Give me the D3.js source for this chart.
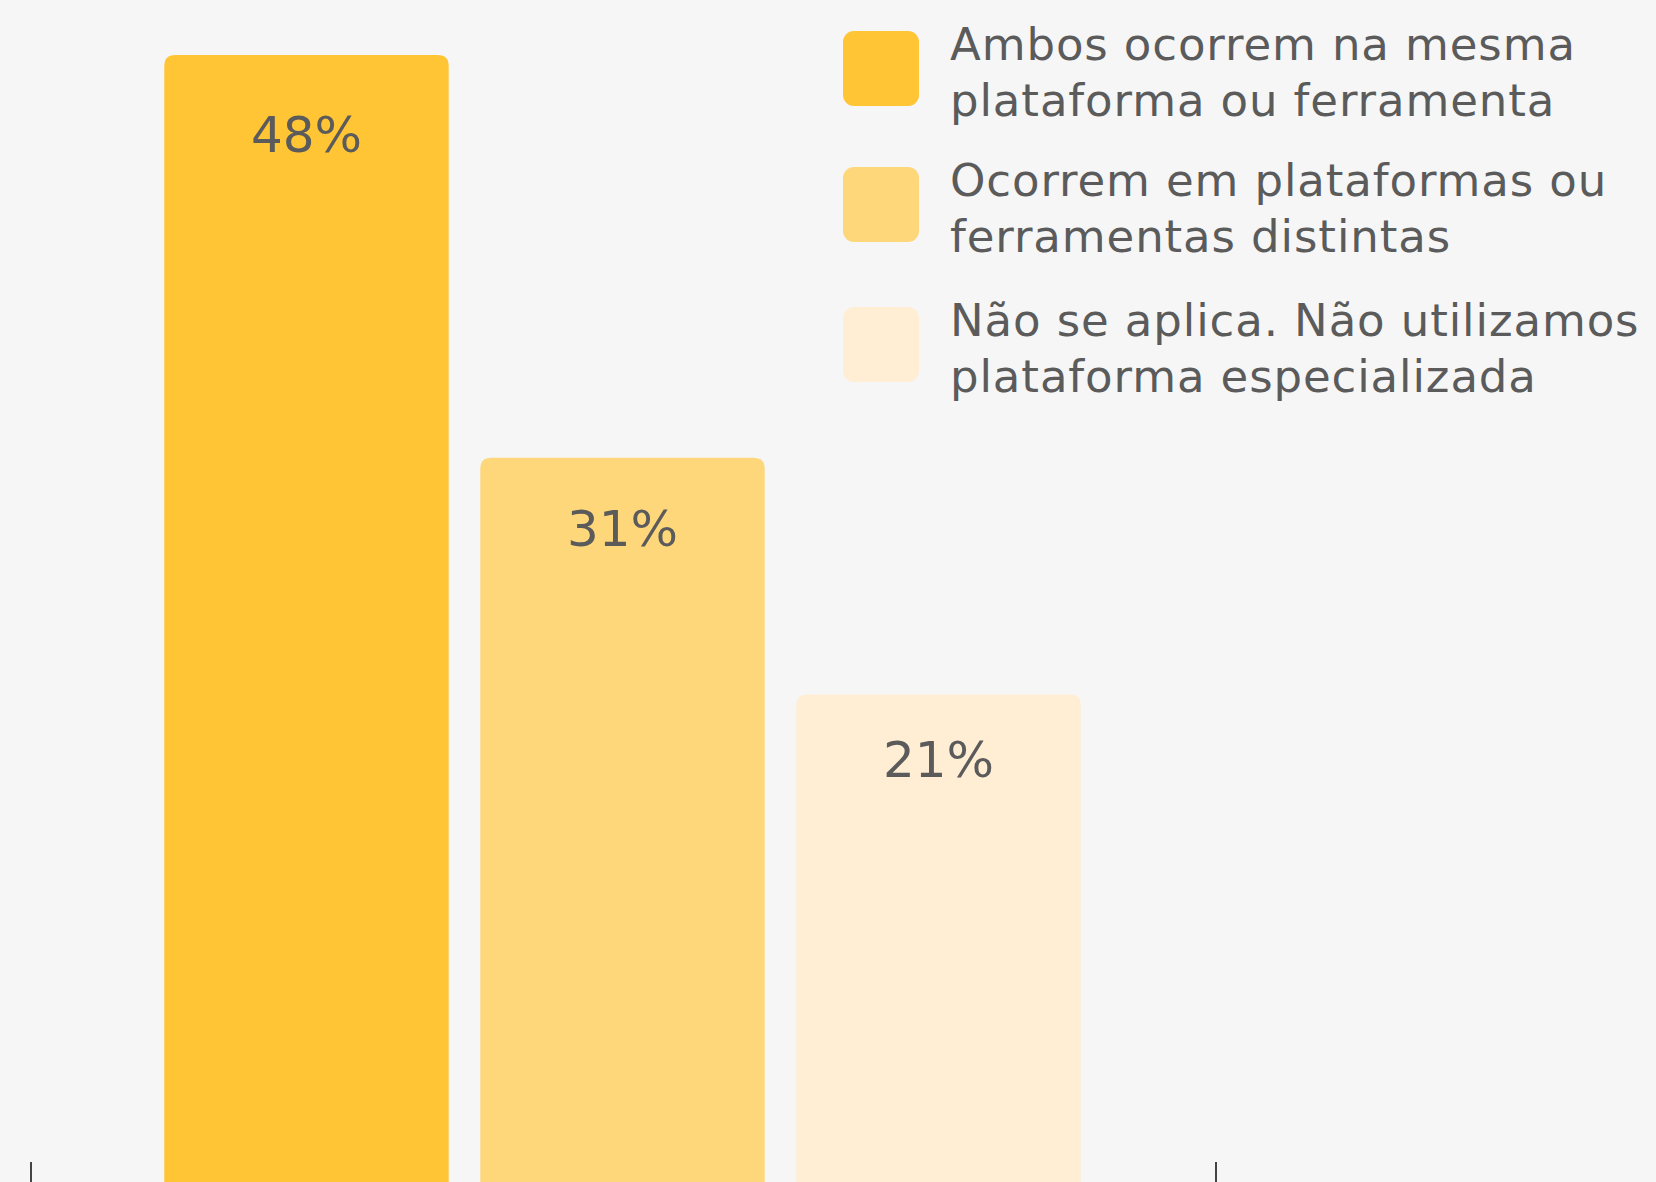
<!DOCTYPE html>
<html lang="pt">
<head>
<meta charset="UTF-8">
<title>Plataformas</title>
<script src="https://d3js.org/d3.v7.min.js"></script>
<style>
  body { margin: 0; padding: 0; background: #f6f6f6; }
  svg { display: block; }
  text { font-family: "DejaVu Sans", sans-serif; fill: #5b5b5b; }
</style>
</head>
<body>
<div id="chart"></div>
<script>
// Data
const categories = ["Ambos", "Distintas", "Não se aplica"];
const values = [48, 31, 21];
const legendLines = [
  ["Ambos ocorrem na mesma", "plataforma ou ferramenta"],
  ["Ocorrem em plataformas ou", "ferramentas distintas"],
  ["Não se aplica. Não utilizamos", "plataforma especializada"]
];
const colors = ["#ffc534", "#ffd77b", "#ffeed3"];

const width = 1656, height = 1182;
const baseY = 1192;

const svg = d3.select("#chart").append("svg")
  .attr("width", width)
  .attr("height", height);

svg.append("rect").attr("width", width).attr("height", height).attr("fill", "#f6f6f6");

const x = d3.scaleBand()
  .domain(categories)
  .range([30, 1215])
  .paddingInner(0.1)
  .paddingOuter(0.425);

const y = d3.scaleLinear()
  .domain([0, 48])
  .range([baseY, 55]);

// bar with rounded top corners only
function topRounded(x0, y0, w, h, r) {
  return `M${x0},${y0 + h}V${y0 + r}Q${x0},${y0} ${x0 + r},${y0}` +
    `H${x0 + w - r}Q${x0 + w},${y0} ${x0 + w},${y0 + r}V${y0 + h}Z`;
}

svg.selectAll("path.bar")
  .data(values)
  .enter()
  .append("path")
  .attr("class", "bar")
  .attr("fill", (d, i) => colors[i])
  .attr("d", (d, i) => topRounded(x(categories[i]), y(d), x.bandwidth(), baseY - y(d), 11));

svg.selectAll("text.val")
  .data(values)
  .enter()
  .append("text")
  .attr("class", "val")
  .attr("x", (d, i) => x(categories[i]) + x.bandwidth() / 2)
  .attr("y", d => y(d) + 71 + 0.55 * d)
  .attr("text-anchor", "middle")
  .attr("font-size", 50)
  .text(d => d + "%");

// axis: only the outer ticks show
const axis = svg.append("g")
  .attr("transform", `translate(0,${baseY})`)
  .call(d3.axisTop(x).tickSizeInner(0).tickSizeOuter(30).tickFormat(""));
axis.select(".domain")
  .attr("stroke", "#444")
  .attr("stroke-width", 2)
  .attr("shape-rendering", "crispEdges");

// legend
const legendTops = [31, 167, 307];
const lg = svg.selectAll("g.leg")
  .data(legendLines)
  .enter()
  .append("g")
  .attr("class", "leg")
  .attr("transform", (d, i) => `translate(843,${legendTops[i]})`);

lg.append("rect")
  .attr("width", 76)
  .attr("height", 75)
  .attr("rx", 11)
  .attr("fill", (d, i) => colors[i]);

lg.each(function(lines) {
  const t = d3.select(this).append("text")
    .attr("font-size", 45)
    .attr("letter-spacing", 0.9);
  lines.forEach((line, j) => {
    t.append("tspan")
      .attr("x", 107)
      .attr("y", 29 + j * 56)
      .text(line);
  });
});
</script>
</body>
</html>
